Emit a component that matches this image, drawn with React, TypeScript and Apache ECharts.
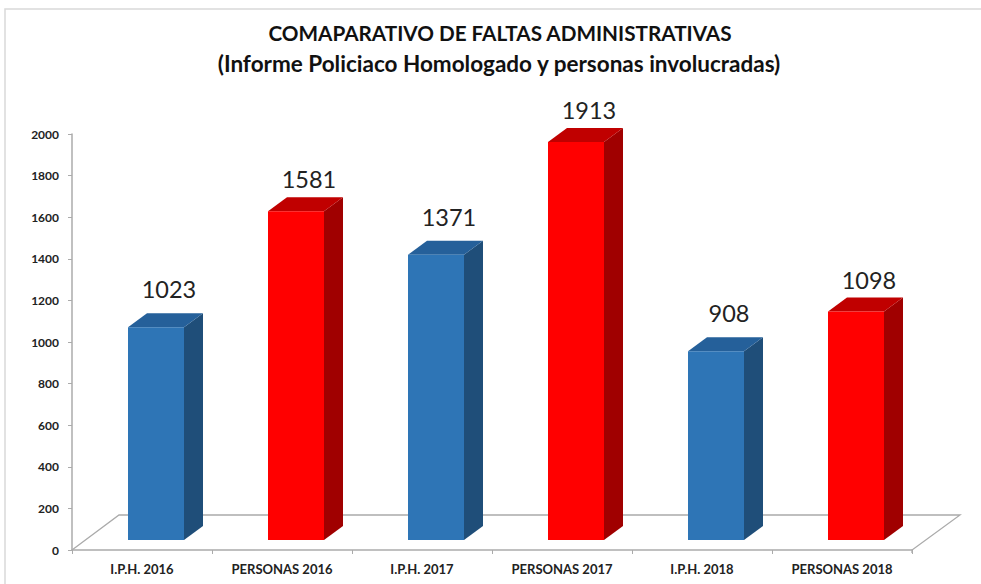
import React, { useEffect, useRef } from "react";
import * as echarts from "echarts";

const categories = ["I.P.H. 2016", "PERSONAS 2016", "I.P.H. 2017", "PERSONAS 2017", "I.P.H. 2018", "PERSONAS 2018"];
const values = [1023, 1581, 1371, 1913, 908, 1098];
const yTicks = [0, 200, 400, 600, 800, 1000, 1200, 1400, 1600, 1800, 2000];
const titleLines = ["COMAPARATIVO DE FALTAS ADMINISTRATIVAS", "(Informe Policiaco Homologado y personas involucradas)"];
const palette = [
  { front: "#2E75B6", side: "#1F4E79", top: "#25609A", labelGap: 38 },
  { front: "#FF0000", side: "#A00000", top: "#C00000", labelGap: 32 },
];
const FONT = "Lato, Carlito, sans-serif";

export default function App() {
  const ref = useRef<HTMLDivElement>(null);
  useEffect(() => {
    const chart = echarts.init(ref.current!, undefined, { renderer: "svg" });
    const grey = "#ABABAB";
    chart.setOption({
      animation: false,
      backgroundColor: "#fff",
      grid: { left: 72, right: 69, top: 134, bottom: 34 },
      xAxis: {
        type: "category",
        data: categories,
        axisLine: { lineStyle: { color: grey, width: 1.5 } },
        axisTick: { show: true, alignWithLabel: false, length: 4, lineStyle: { color: grey } },
        axisLabel: { color: "#222", fontFamily: FONT, fontWeight: "bold", fontSize: 13, margin: 12, interval: 0 },
      },
      yAxis: {
        type: "value",
        min: 0,
        max: 2000,
        interval: 200,
        splitLine: { show: false },
        axisLine: { show: true, lineStyle: { color: grey, width: 1.5 } },
        axisTick: { show: true, length: 4, lineStyle: { color: grey } },
        axisLabel: {
          color: "#222", fontFamily: FONT, fontWeight: "bold", fontSize: 12, margin: 13,
          formatter: (v: number) => (yTicks.includes(v) ? String(v) : ""),
        },
      },
      graphic: [
        { type: "rect", z: 0, shape: { x: 5, y: 9, width: 990, height: 590 }, style: { fill: "#fff", stroke: "#D9D9D9", lineWidth: 1.5 } },
        { type: "polyline", z: 1, shape: { points: [[72, 550], [119, 515], [960, 515], [912, 550], [912, 553]] }, style: { fill: "none", stroke: grey, lineWidth: 1.3 } },
        { type: "text", z: 5, style: { x: 500, y: 33, text: titleLines[0], align: "center", verticalAlign: "middle", font: `bold 20.7px ${FONT}`, fill: "#111" } },
        { type: "text", z: 5, style: { x: 499, y: 63, text: titleLines[1], align: "center", verticalAlign: "middle", font: `bold 22.5px ${FONT}`, fill: "#111" } },
      ],
      series: [
        {
          type: "custom",
          coordinateSystem: "cartesian2d",
          z: 3,
          data: values.map((v, i) => [i, v]),
          renderItem: (params: any, api: any) => {
            const i = api.value(0);
            const val = api.value(1);
            const p = api.coord([i, val]);
            const base = api.coord([i, 0]);
            const col = palette[i % 2];
            const w = 56, dx = 19, dy = 14, lift = 10, shift = 14;
            const l = p[0] + shift - w / 2;
            const r = l + w;
            const t = p[1] - lift;
            const b = base[1] - lift;
            return {
              type: "group",
              children: [
                { type: "polygon", shape: { points: [[r, t], [r + dx, t - dy], [r + dx, b - dy], [r, b]] }, style: { fill: col.side } },
                { type: "polygon", shape: { points: [[l, t], [l + dx, t - dy], [r + dx, t - dy], [r, t]] }, style: { fill: col.top } },
                { type: "rect", shape: { x: l, y: t, width: w, height: b - t }, style: { fill: col.front } },
                { type: "text", style: { x: p[0] + 27, y: t - col.labelGap, text: String(val), align: "center", verticalAlign: "middle", font: `23.5px ${FONT}`, fill: "#222" } },
              ],
            };
          },
        },
      ],
    });
    return () => chart.dispose();
  }, []);
  return <div ref={ref} style={{ position: "absolute", left: 0, top: 0, width: 981, height: 584 }} />;
}
